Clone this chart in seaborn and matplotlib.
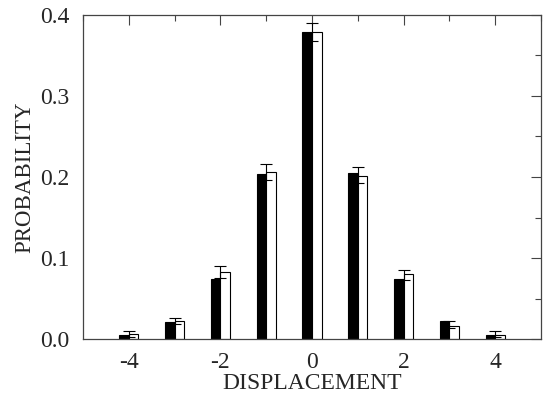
import matplotlib
matplotlib.use("Agg")
import matplotlib.pyplot as plt
import numpy as np
import pandas as pd
import seaborn as sns
from matplotlib.ticker import MultipleLocator

# values
displacement = [-4, -3, -2, -1, 0, 1, 2, 3, 4]
prob_black = [0.0055, 0.022, 0.075, 0.204, 0.379, 0.205, 0.075, 0.023, 0.0055]
prob_white = [0.0064, 0.023, 0.083, 0.206, 0.378, 0.201, 0.080, 0.017, 0.005]
err_high = [0.011, 0.027, 0.090, 0.216, 0.389, 0.212, 0.086, 0.023, 0.011]
err_low = [0.003, 0.019, 0.076, 0.196, 0.367, 0.193, 0.073, 0.014, 0.003]
x_ticks = [-4, -2, 0, 2, 4]
y_ticks = [0.0, 0.1, 0.2, 0.3, 0.4]

sns.set_style("white")
plt.rcParams["font.family"] = ["Liberation Serif", "DejaVu Serif"]

df = pd.DataFrame({
    "disp": displacement * 2,
    "prob": prob_black + prob_white,
    "series": ["a"] * len(displacement) + ["b"] * len(displacement),
})

fig = plt.figure(figsize=(5.45, 4.03), dpi=100)
ax = fig.add_axes([0.1523, 0.1576, 0.8404, 0.8064])

sns.barplot(data=df, x="disp", y="prob", hue="series", native_scale=True,
            palette=["black", "white"], edgecolor="black", linewidth=0.8,
            width=0.42, errorbar=None, legend=False, ax=ax)

# error bars sit on the join of each pair
mid = np.array(prob_white)
ax.errorbar(displacement, mid,
            yerr=[mid - np.array(err_low), np.array(err_high) - mid],
            fmt="none", ecolor="black", elinewidth=0.8, capsize=4, capthick=0.8)

ax.set_xlim(-5, 5)
ax.set_ylim(0, 0.4)
ax.set_xticks(x_ticks)
ax.set_xticklabels([str(v) for v in x_ticks])
ax.set_yticks(y_ticks)
ax.set_yticklabels([f"{v:.1f}" for v in y_ticks])
ax.xaxis.set_minor_locator(MultipleLocator(1))
ax.yaxis.set_minor_locator(MultipleLocator(0.05))

ax.tick_params(axis="both", which="both", direction="in", labelsize=17,
               top=True, right=True, bottom=False, color="#444444")
ax.tick_params(axis="both", which="major", length=7, width=0.8)
ax.tick_params(axis="both", which="minor", length=4, width=0.8)
ax.tick_params(axis="x", pad=9)
ax.tick_params(axis="y", pad=10)

for s in ax.spines.values():
    s.set_visible(True)
    s.set_color("#444444")
    s.set_linewidth(0.9)

ax.set_xlabel("DISPLACEMENT", fontsize=17, labelpad=0)
ax.set_ylabel("PROBABILITY", fontsize=16.5, labelpad=3)

fig.savefig("out.png", dpi=100, facecolor="white")
